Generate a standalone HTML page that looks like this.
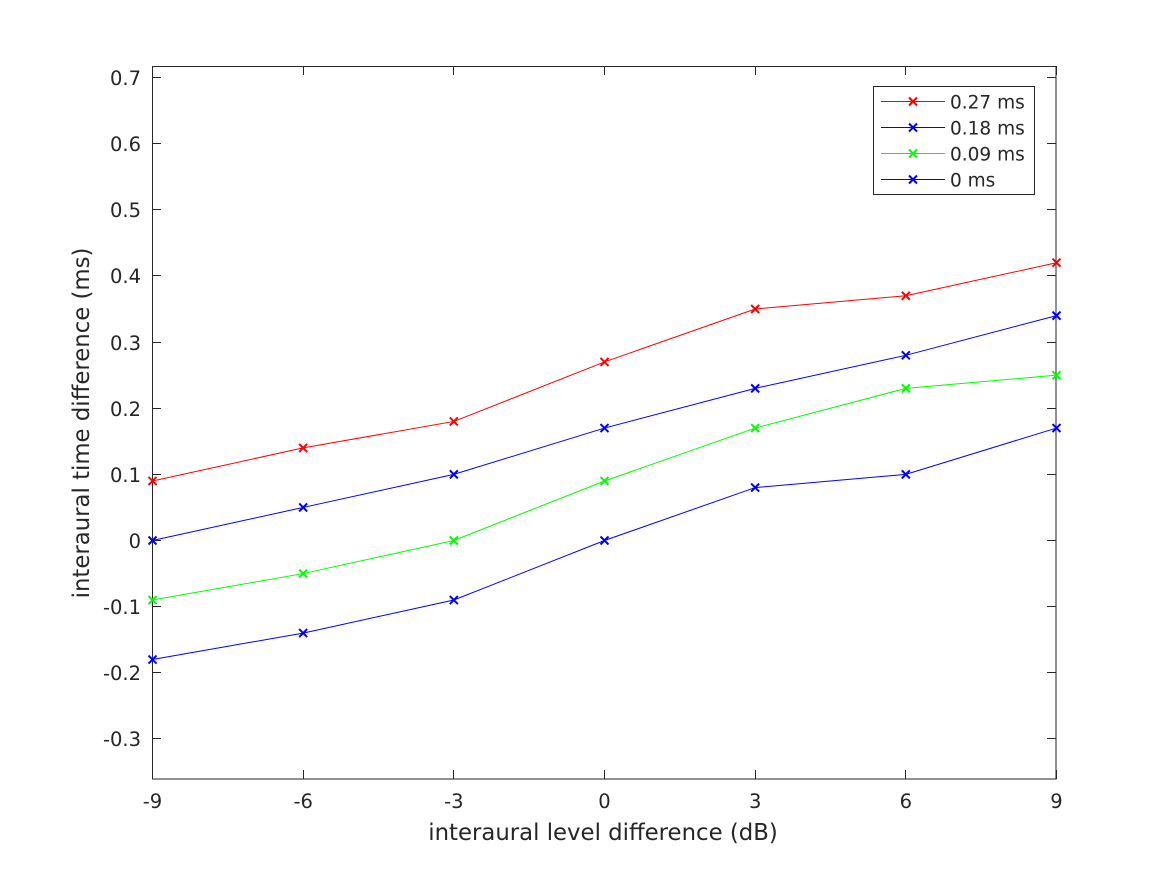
<!DOCTYPE html>
<html><head><style>body{margin:0;background:#fff}svg{display:block}text{font-family:"DejaVu Sans","Liberation Sans",sans-serif;fill:#262626}</style></head>
<body>
<svg id="s" width="1167" height="875" xmlns="http://www.w3.org/2000/svg">
<rect x="0" y="0" width="1167" height="875" fill="#fff"/>
<rect x="152.5" y="66.5" width="903.5" height="712.5" fill="#fff" stroke="#262626" stroke-width="1"/>
<g id="ticks" stroke="#262626" stroke-width="1"></g>
<g id="lab" font-size="19.5"></g>
<text x="603" y="840" font-size="22.8" text-anchor="middle">interaural level difference (dB)</text>
<text transform="translate(89,423) rotate(-90)" font-size="22.8" text-anchor="middle">interaural time difference (ms)</text>
<g id="series"></g>
<rect x="873.5" y="86.5" width="161" height="108" fill="#fff" stroke="#262626"/>
<g id="leg" font-size="18.5"></g>
</svg>
<script>
const NS="http://www.w3.org/2000/svg";
function el(p,t,a,txt){const e=document.createElementNS(NS,t);for(const k in a)e.setAttribute(k,a[k]);if(txt!=null)e.textContent=txt;document.getElementById(p).appendChild(e);return e;}
const X=v=>152.5+(v+9)*50.2222, Y=v=>540.5-v*661.4;
[-9,-6,-3,0,3,6,9].forEach(v=>{const x=Math.round(X(v)-0.5)+0.5;
el('ticks','line',{x1:x,y1:779,x2:x,y2:770});el('ticks','line',{x1:x,y1:66,x2:x,y2:75});
el('lab','text',{x:X(v),y:808,'text-anchor':'middle'},String(v));});
[-0.3,-0.2,-0.1,0,0.1,0.2,0.3,0.4,0.5,0.6,0.7].forEach(v=>{const y=Math.round(Y(v)-0.5)+0.5;
el('ticks','line',{x1:152,y1:y,x2:161,y2:y});el('ticks','line',{x1:1056,y1:y,x2:1047,y2:y});
el('lab','text',{x:141,y:y+7.5,'text-anchor':'end'},String(v));});
const xs=[-9,-6,-3,0,3,6,9];
const S=[["#ff0000",[.09,.14,.18,.27,.35,.37,.42]],["#0000ff",[0,.05,.1,.17,.23,.28,.34]],["#00ff00",[-.09,-.05,0,.09,.17,.23,.25]],["#0000ff",[-.18,-.14,-.09,0,.08,.1,.17]]];
function mk(g,x,y,c){el(g,'path',{d:`M${x-4} ${y-4}L${x+4} ${y+4}M${x-4} ${y+4}L${x+4} ${y-4}`,stroke:c,'stroke-width':2,fill:'none'});}
S.forEach(([c,d])=>{el('series','polyline',{points:d.map((v,i)=>X(xs[i])+','+Y(v)).join(' '),fill:'none',stroke:c,'stroke-width':1});d.forEach((v,i)=>mk('series',X(xs[i]),Y(v),c));});
const L=["0.27 ms","0.18 ms","0.09 ms","0 ms"];
L.forEach((t,i)=>{const y=101.5+i*26;el('leg','line',{x1:881,y1:y,x2:945,y2:y,stroke:S[i][0],'stroke-width':1});mk('leg',913,y,S[i][0]);el('leg','text',{x:950,y:y+7},t);});
</script>
</body></html>
